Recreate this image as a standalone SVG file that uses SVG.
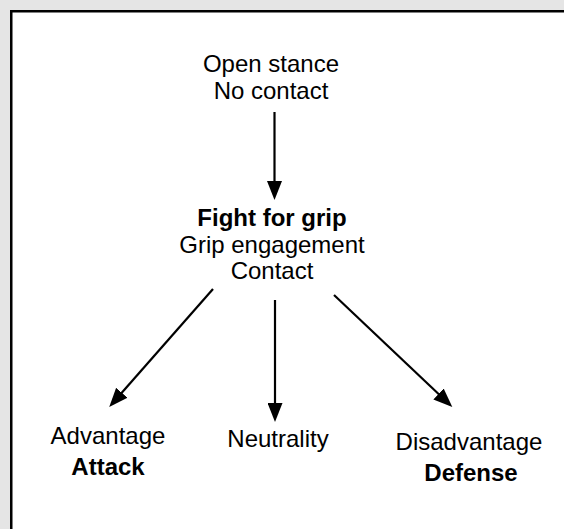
<svg xmlns="http://www.w3.org/2000/svg" width="564" height="529" viewBox="0 0 564 529">
<style>
text{font-family:"Liberation Sans",Arial,Helvetica,sans-serif;font-size:24px;fill:#000;text-anchor:middle}
.b{font-weight:bold}
.c{stroke:#000;stroke-width:2.2;fill:none}
</style>
<defs>
<marker id="ah" viewBox="0 0 19 15" markerWidth="19" markerHeight="15" refX="11" refY="7.5" orient="auto" markerUnits="userSpaceOnUse">
<path d="M0,0 L19,7.5 L0,15 z" fill="#000"/>
</marker>
</defs>
<rect x="0" y="0" width="564" height="529" fill="#e5e5e5"/>
<rect x="11.25" y="11.25" width="600" height="600" fill="#fff" stroke="#000" stroke-width="2.5"/>
<g id="connectors">
<line class="c" x1="274.5" y1="112" x2="274.5" y2="192" marker-end="url(#ah)"/>
<line class="c" x1="213" y1="289" x2="114.5" y2="401" marker-end="url(#ah)"/>
<line class="c" x1="275" y1="300" x2="275" y2="414" marker-end="url(#ah)"/>
<line class="c" x1="334" y1="295" x2="446.5" y2="401.5" marker-end="url(#ah)"/>
</g>
<g id="open">
<text x="271" y="72">Open stance</text>
<text x="271" y="99">No contact</text>
</g>
<g id="fight">
<text class="b" x="272" y="226">Fight for grip</text>
<text x="272" y="253">Grip engagement</text>
<text x="272" y="279">Contact</text>
</g>
<g id="advantage">
<text x="108" y="444">Advantage</text>
<text class="b" x="108" y="475">Attack</text>
</g>
<g id="neutrality">
<text x="278" y="447">Neutrality</text>
</g>
<g id="disadvantage">
<text x="469" y="450">Disadvantage</text>
<text class="b" x="471" y="481">Defense</text>
</g>
</svg>
